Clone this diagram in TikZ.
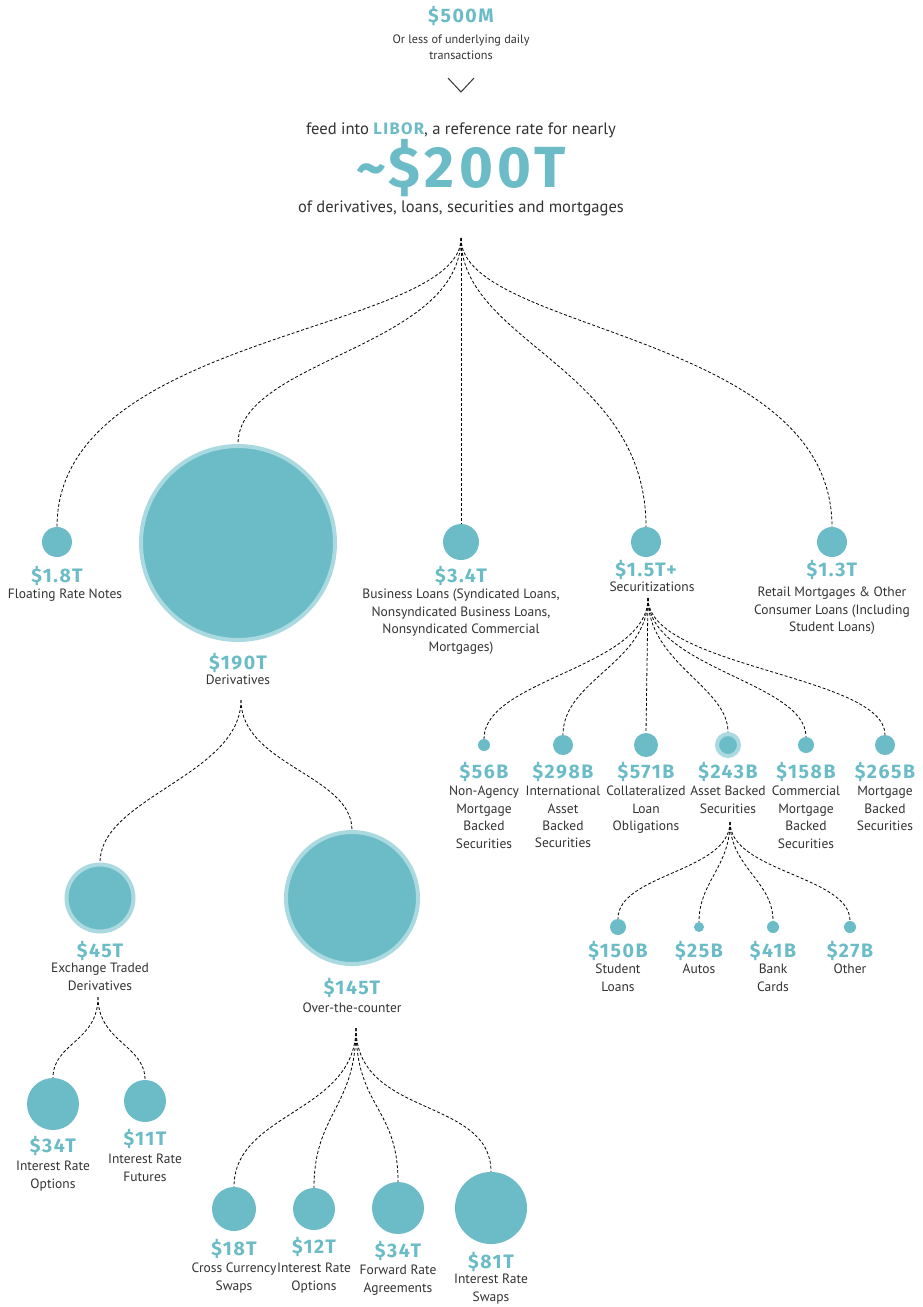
\documentclass[tikz,border=0pt]{standalone}
\usepackage{fontspec}
\setmainfont{PT Sans}
\newfontfamily\valfont{Fira Sans}[LetterSpace=8]
\definecolor{teal1}{HTML}{6BBCC7}
\definecolor{halo1}{HTML}{AADAE0}
\definecolor{ink}{HTML}{333333}
\begin{document}
\begin{tikzpicture}[x=1pt,y=-1pt,
  dot/.style={circle,fill=teal1,inner sep=0pt,minimum size=#1},
  hdot/.style={circle,fill=teal1,draw=halo1,line width=4pt,inner sep=0pt,minimum size=#1},
  val/.style={text=teal1,font=\fontsize{19.5}{21}\selectfont\valfont\bfseries,inner sep=0pt},
  desc/.style={text=ink,font=\fontsize{13.5}{17.4}\selectfont,align=center,inner sep=0pt,anchor=north},
  conn/.style={dash pattern=on 3pt off 2pt,line width=0.8pt,black}]
\useasboundingbox[fill=white] (0,0) rectangle (922,1307);

% header
\node[val] (t500) at (461,16) {\$500M};
\node[text=ink,font=\fontsize{12.2}{16}\selectfont,align=center,inner sep=0pt] (t500d) at (461,47) {Or less of underlying daily\\transactions};
\coordinate (chA) at (448,78);
\coordinate (chB) at (461,92);
\coordinate (chC) at (474,78);
\draw[line width=1pt,ink] (chA) -- (chB) -- (chC);
\node[text=ink,font=\fontsize{16.6}{20}\selectfont,inner sep=0pt] (feed) at (461,130) {feed into {\color{teal1}\valfont\bfseries LIBOR}, a reference rate for nearly};
\node[text=teal1,font=\fontsize{58}{60}\selectfont\valfont\bfseries,inner sep=0pt,anchor=base] (big) at (461,187) {\textasciitilde\$200T};
\node[text=ink,font=\fontsize{16.5}{20}\selectfont,inner sep=0pt] (ofd) at (461,208) {of derivatives, loans, securities and mortgages};

\coordinate (root) at (461,238);

% level 1
\node[dot=30] (frn) at (57,542) {};
\node[val] (frnv) at (57,576) {\$1.8T};
\node[desc] (frnd) at (65,589) {Floating Rate Notes};

\node[hdot=194] (der) at (238,543) {};
\node[val] (derv) at (238,663) {\$190T};
\node[desc] (derd) at (238,675) {Derivatives};

\node[dot=36] (bus) at (461,542) {};
\node[val] (busv) at (461,576) {\$3.4T};
\node[desc] (busd) at (461,589) {Business Loans (Syndicated Loans,\\Nonsyndicated Business Loans,\\Nonsyndicated Commercial\\Mortgages)};

\node[dot=30] (sec) at (646,542) {};
\node[val] (secv) at (646,570) {\$1.5T+};
\node[desc] (secd) at (652,582) {Securitizations};

\node[dot=30] (ret) at (832,542) {};
\node[val] (retv) at (832,570) {\$1.3T};
\node[desc] (retd) at (832,587) {Retail Mortgages \& Other\\Consumer Loans (Including\\Student Loans)};

\draw[conn] (root) .. controls +(0,95) and +(0,-195) .. (frn.north);
\draw[conn] (root) .. controls +(0,110) and +(0,-85) .. (der.north);
\draw[conn] (root) -- (bus.north);
\draw[conn] (root) .. controls +(0,105) and +(0,-160) .. (sec.north);
\draw[conn] (root) .. controls +(0,95) and +(0,-195) .. (ret.north);

% securitizations
\coordinate (secf) at (648,598);
\node[dot=12] (s1) at (484,745) {};
\node[dot=20] (s2) at (563,745) {};
\node[dot=24] (s3) at (646,745) {};
\node[hdot=22] (s4) at (728,745) {};
\node[dot=16] (s5) at (806,745) {};
\node[dot=20] (s6) at (885,745) {};
\node[val] (s1v) at (484,772) {\$56B};
\node[val] (s2v) at (563,772) {\$298B};
\node[val] (s3v) at (646,772) {\$571B};
\node[val] (s4v) at (728,772) {\$243B};
\node[val] (s5v) at (806,772) {\$158B};
\node[val] (s6v) at (885,772) {\$265B};
\node[desc] (s1d) at (484,786) {Non-Agency\\Mortgage\\Backed\\Securities};
\node[desc] (s2d) at (563,786) {International\\Asset\\Backed\\Securities};
\node[desc] (s3d) at (646,786) {Collateralized\\Loan\\Obligations};
\node[desc] (s4d) at (728,786) {Asset Backed\\Securities};
\node[desc] (s5d) at (806,786) {Commercial\\Mortgage\\Backed\\Securities};
\node[desc] (s6d) at (885,786) {Mortgage\\Backed\\Securities};
\draw[conn] (secf) .. controls +(0,70) and +(0,-60) .. (s1.north);
\draw[conn] (secf) .. controls +(0,65) and +(0,-55) .. (s2.north);
\draw[conn] (secf) -- (s3.north);
\draw[conn] (secf) .. controls +(0,65) and +(0,-45) .. (s4.north);
\draw[conn] (secf) .. controls +(0,70) and +(0,-55) .. (s5.north);
\draw[conn] (secf) .. controls +(0,70) and +(0,-60) .. (s6.north);

% asset backed securities
\coordinate (absf) at (730,822);
\node[dot=16] (a1) at (618,927) {};
\node[dot=10] (a2) at (699,927) {};
\node[dot=12] (a3) at (773,927) {};
\node[dot=12] (a4) at (850,927) {};
\node[val] (a1v) at (618,951) {\$150B};
\node[val] (a2v) at (699,951) {\$25B};
\node[val] (a3v) at (773,951) {\$41B};
\node[val] (a4v) at (850,951) {\$27B};
\node[desc] (a1d) at (618,964) {Student\\Loans};
\node[desc] (a2d) at (699,964) {Autos};
\node[desc] (a3d) at (773,964) {Bank\\Cards};
\node[desc] (a4d) at (850,964) {Other};
\draw[conn] (absf) .. controls +(0,50) and +(0,-45) .. (a1.north);
\draw[conn] (absf) .. controls +(0,45) and +(0,-40) .. (a2.north);
\draw[conn] (absf) .. controls +(0,45) and +(0,-40) .. (a3.north);
\draw[conn] (absf) .. controls +(0,50) and +(0,-45) .. (a4.north);

% derivatives
\coordinate (derf) at (241,700);
\node[hdot=67] (etd) at (100,898) {};
\node[hdot=132] (otc) at (352,898) {};
\node[val] (etdv) at (100,951) {\$45T};
\node[desc] (etdd) at (100,963) {Exchange Traded\\Derivatives};
\node[val] (otcv) at (352,988) {\$145T};
\node[desc] (otcd) at (352,1003) {Over-the-counter};
\draw[conn] (derf) .. controls +(0,75) and +(0,-65) .. (etd.north);
\draw[conn] (derf) .. controls +(0,65) and +(0,-55) .. (otc.north);

% exchange traded
\coordinate (etdf) at (98,997);
\node[dot=52] (e1) at (53,1104) {};
\node[dot=42] (e2) at (145,1101) {};
\node[val] (e1v) at (53,1146) {\$34T};
\node[val] (e2v) at (145,1139) {\$11T};
\node[desc] (e1d) at (53,1161) {Interest Rate\\Options};
\node[desc] (e2d) at (145,1154) {Interest Rate\\Futures};
\draw[conn] (etdf) .. controls +(0,45) and +(0,-35) .. (e1.north);
\draw[conn] (etdf) .. controls +(0,45) and +(0,-35) .. (e2.north);

% over the counter
\coordinate (otcf) at (356,1028);
\node[dot=44] (o1) at (234,1209) {};
\node[dot=42] (o2) at (314,1209) {};
\node[dot=52] (o3) at (398,1208) {};
\node[dot=72] (o4) at (491,1208) {};
\node[val] (o1v) at (234,1249) {\$18T};
\node[val] (o2v) at (314,1247) {\$12T};
\node[val] (o3v) at (398,1251) {\$34T};
\node[val] (o4v) at (491,1262) {\$81T};
\node[desc] (o1d) at (234,1263) {Cross Currency\\Swaps};
\node[desc] (o2d) at (314,1263) {Interest Rate\\Options};
\node[desc] (o3d) at (398,1265) {Forward Rate\\Agreements};
\node[desc] (o4d) at (491,1274) {Interest Rate\\Swaps};
\draw[conn] (otcf) .. controls +(0,85) and +(0,-75) .. (o1.north);
\draw[conn] (otcf) .. controls +(0,80) and +(0,-75) .. (o2.north);
\draw[conn] (otcf) .. controls +(0,80) and +(0,-75) .. (o3.north);
\draw[conn] (otcf) .. controls +(0,90) and +(0,-75) .. (o4.north);
\end{tikzpicture}
\end{document}
